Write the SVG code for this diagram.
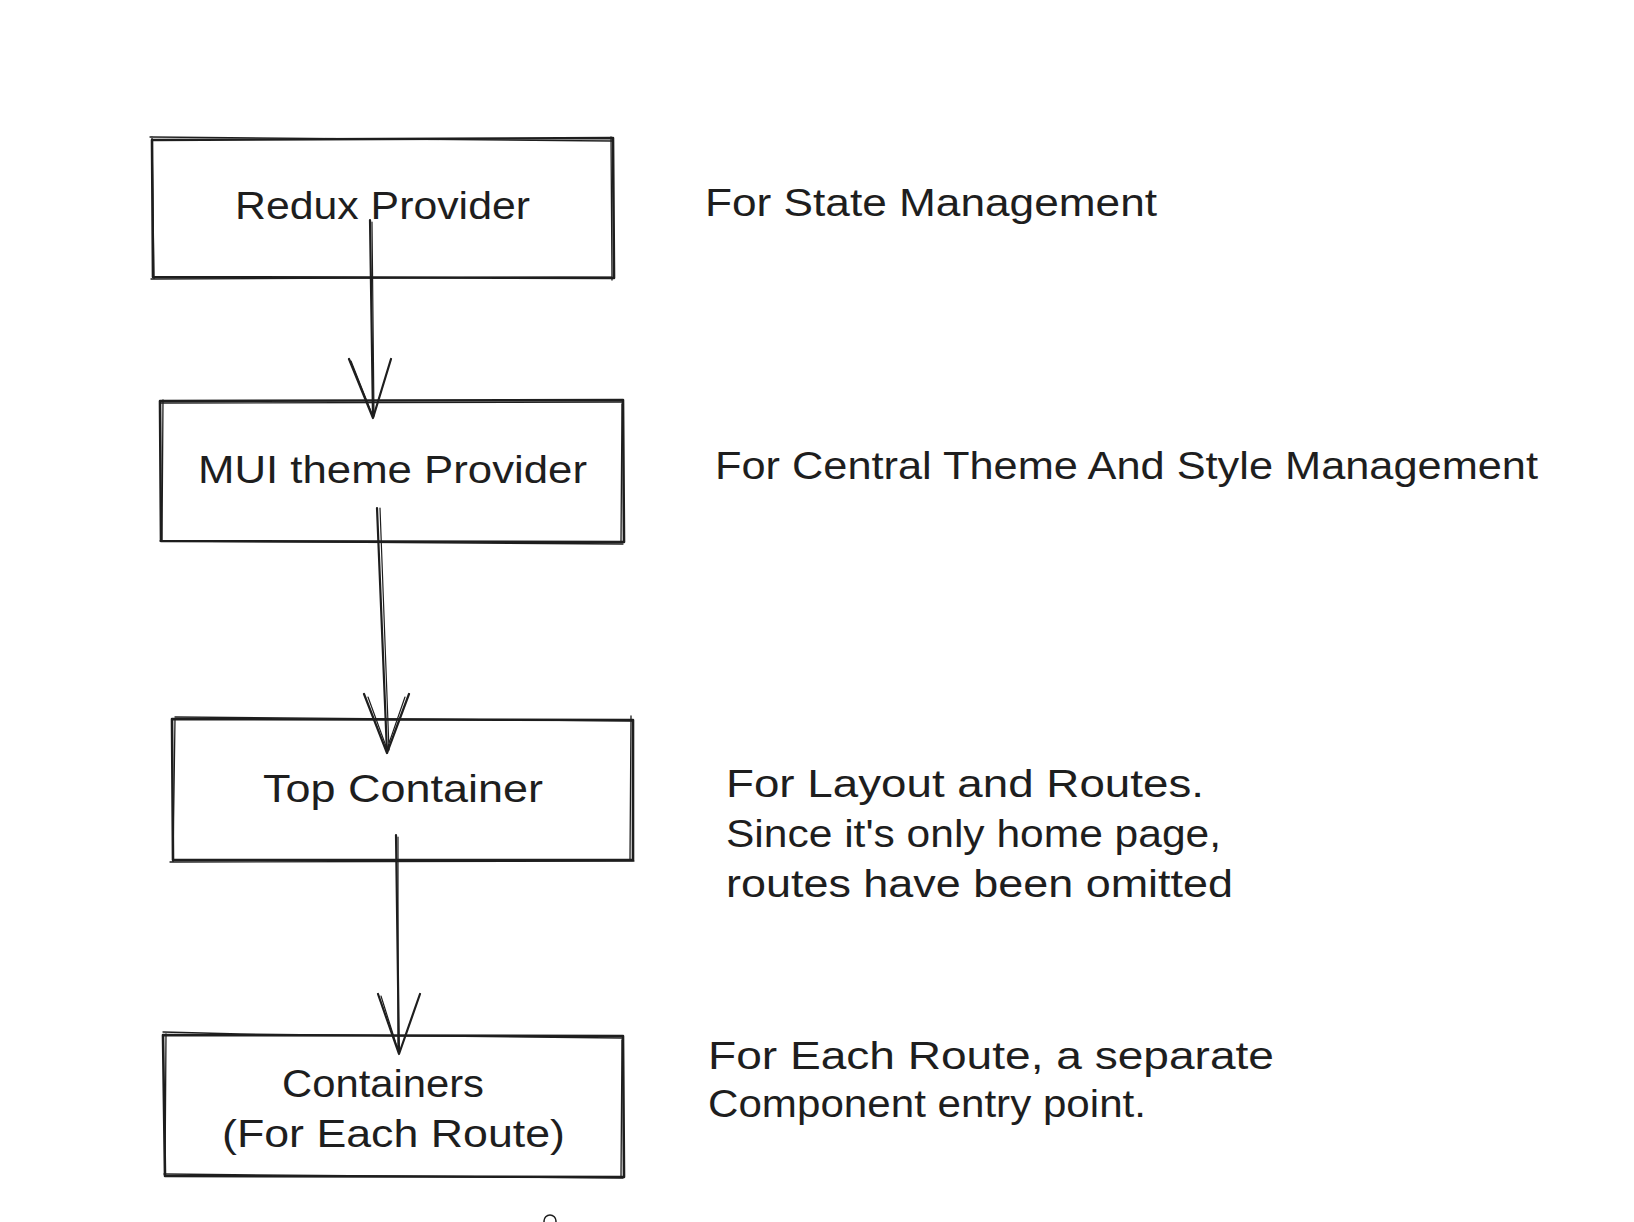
<svg xmlns="http://www.w3.org/2000/svg" width="1634" height="1222" viewBox="0 0 1634 1222">
<style>
.box{fill:none;stroke:#1e1e1e;stroke-width:2.6;stroke-linejoin:round;stroke-linecap:round}
.box2{fill:none;stroke:#1e1e1e;stroke-width:1.3;stroke-linecap:round}
.con{fill:none;stroke:#1e1e1e;stroke-width:2.2;stroke-linecap:round;stroke-linejoin:round}
.con2{fill:none;stroke:#1e1e1e;stroke-width:1.2;stroke-linecap:round}
.t{font-family:"Liberation Sans",Arial,sans-serif;font-size:38px;fill:#1e1e1e}
</style>
<rect width="1634" height="1222" fill="#ffffff"/>
<g id="node-redux">
<path class="box" d="M152 140 L613 138 L614 278 L153 277 Z"/>
<path class="box2" d="M150 137 L612 141 M611 137 L612 280 M151 279 L612 277 M152 137 L154 278"/>
<text class="t" x="235" y="219" textLength="295" lengthAdjust="spacingAndGlyphs">Redux Provider</text>
</g>
<g id="node-mui">
<path class="box" d="M160 401 L623 400 L624 542 L161 541 Z"/>
<path class="box2" d="M161 403 L622 402 M622 404 L621 542 M160 541 L623 544 M163 400 L162 540"/>
<text class="t" x="198" y="483" textLength="389" lengthAdjust="spacingAndGlyphs">MUI theme Provider</text>
</g>
<g id="node-top">
<path class="box" d="M172 719 L633 720 L633 860 L173 860 Z"/>
<path class="box2" d="M175 717 L632 721 M631 716 L630 860 M170 862 L634 861 M175 719 L173 862"/>
<text class="t" x="263" y="802" textLength="280" lengthAdjust="spacingAndGlyphs">Top Container</text>
</g>
<g id="node-containers">
<path class="box" d="M163 1035 L623 1036 L624 1177 L165 1176 Z"/>
<path class="box2" d="M163 1032 L240 1034 L622 1038 M622 1040 L621 1176 M164 1174 L623 1178 M166 1034 L165 1176"/>
<text class="t" x="282" y="1097" textLength="202" lengthAdjust="spacingAndGlyphs">Containers</text>
<text class="t" x="222" y="1147" textLength="343" lengthAdjust="spacingAndGlyphs">(For Each Route)</text>
</g>
<g id="connectors">
<path class="con" d="M370 220 L373 418 M349 359 L373 418 L391 359"/>
<path class="con2" d="M372 222 L374 416 M351 361 L372 414"/>
<path class="con" d="M377 508 L387 753 M364 694 L387 753 L409 694"/>
<path class="con2" d="M380 508 L389 750 M368 697 L387 749 L405 697"/>
<path class="con" d="M396 835 L399 1054 M378 994 L399 1054 L420 994"/>
<path class="con2" d="M398 837 L398 1050 M381 996 L398 1050"/>
</g>
<g id="notes">
<text class="t" x="705" y="216" textLength="452" lengthAdjust="spacingAndGlyphs">For State Management</text>
<text class="t" x="715" y="479" textLength="823" lengthAdjust="spacingAndGlyphs">For Central Theme And Style Management</text>
<text class="t" x="726" y="797" textLength="478" lengthAdjust="spacingAndGlyphs">For Layout and Routes.</text>
<text class="t" x="726" y="847" textLength="495" lengthAdjust="spacingAndGlyphs">Since it's only home page,</text>
<text class="t" x="726" y="897" textLength="507" lengthAdjust="spacingAndGlyphs">routes have been omitted</text>
<text class="t" x="708" y="1069" textLength="566" lengthAdjust="spacingAndGlyphs">For Each Route, a separate</text>
<text class="t" x="708" y="1117" textLength="438" lengthAdjust="spacingAndGlyphs">Component entry point.</text>
</g>
<circle cx="550" cy="1221" r="6" fill="#ffffff" stroke="#1e1e1e" stroke-width="1.5"/>
</svg>
